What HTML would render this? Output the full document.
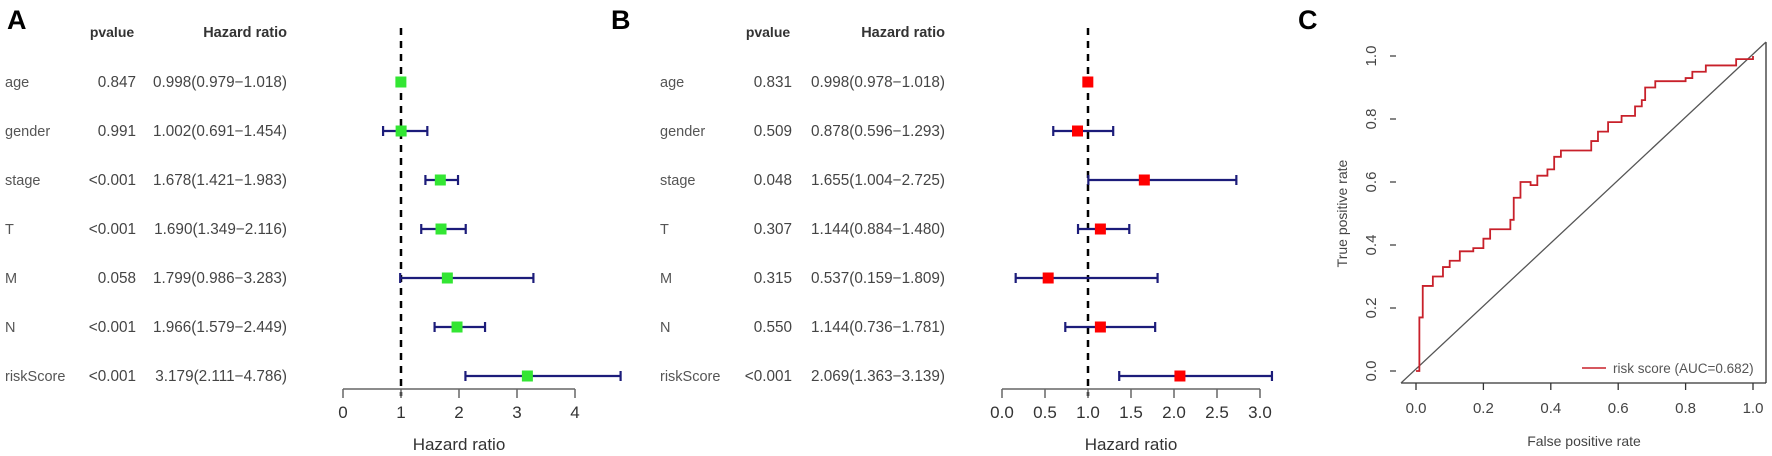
<!DOCTYPE html>
<html><head><meta charset="utf-8"><style>
html,body{margin:0;padding:0;background:#fff;}
svg{display:block;font-family:"Liberation Sans",sans-serif;}
</style></head><body>
<svg id="fig" width="1772" height="456" viewBox="0 0 1772 456" xmlns="http://www.w3.org/2000/svg"></svg>
<script>
const variables = ["age","gender","stage","T","M","N","riskScore"];
const aPvalues = ["0.847","0.991","<0.001","<0.001","0.058","<0.001","<0.001"];
const aHR = [0.998,1.002,1.678,1.690,1.799,1.966,3.179];
const aLow = [0.979,0.691,1.421,1.349,0.986,1.579,2.111];
const aHigh = [1.018,1.454,1.983,2.116,3.283,2.449,4.786];
const aTicks = [0,1,2,3,4];
const bPvalues = ["0.831","0.509","0.048","0.307","0.315","0.550","<0.001"];
const bHR = [0.998,0.878,1.655,1.144,0.537,1.144,2.069];
const bLow = [0.978,0.596,1.004,0.884,0.159,0.736,1.363];
const bHigh = [1.018,1.293,2.725,1.480,1.809,1.781,3.139];
const bTicks = [0,0.5,1,1.5,2,2.5,3];
const rocFpr = [0,0.01,0.01,0.02,0.05,0.08,0.10,0.13,0.17,0.20,0.22,0.26,0.28,0.29,0.31,0.34,0.36,0.39,0.41,0.43,0.51,0.52,0.54,0.57,0.61,0.65,0.67,0.68,0.71,0.80,0.82,0.86,0.94,0.95,1.0];
const rocTpr = [0,0.0,0.17,0.27,0.30,0.33,0.35,0.38,0.39,0.42,0.45,0.45,0.48,0.55,0.60,0.59,0.62,0.64,0.68,0.70,0.70,0.73,0.76,0.79,0.81,0.84,0.86,0.90,0.92,0.93,0.95,0.97,0.97,0.99,1.0];
const rocTicks = [0,0.2,0.4,0.6,0.8,1.0];

const svg = document.getElementById('fig');
const NS = 'http://www.w3.org/2000/svg';
function mk(tag, attrs, text){
  const e = document.createElementNS(NS, tag);
  for (const k in attrs) e.setAttribute(k, attrs[k]);
  if (text !== undefined) e.textContent = text;
  svg.appendChild(e);
  return e;
}
const rowY = i => 82 + i*49;
const fmt = v => v.toFixed(3);

function forest(p){
  const sx = v => p.x0 + v*p.unit;
  let t;
  t = mk('text',{x:p.lx,y:29,'font-size':27,'font-weight':'bold',fill:'#000'},p.letter);
  
  
  t = mk('text',{x:p.pvEnd-24,y:37,'font-size':14,'font-weight':'bold','text-anchor':'middle',fill:'#333'},'pvalue');
  
  
  t = mk('text',{x:p.hrEnd,y:37,'font-size':14.5,'font-weight':'bold','text-anchor':'end',fill:'#333'},'Hazard ratio');
  
  
  variables.forEach((v,i)=>{
    const y = rowY(i)+5;
    let e = mk('text',{x:p.nameX,y:y,'font-size':14.5,fill:'#555'},v);
    
    
    e = mk('text',{x:p.pvEnd,y:y,'font-size':15.3,'text-anchor':'end',fill:'#444'},p.pv[i]);
    
    
    e = mk('text',{x:p.hrEnd,y:y,'font-size':15.3,'text-anchor':'end',fill:'#444'},fmt(p.hr[i])+'('+fmt(p.lo[i])+'−'+fmt(p.hi[i])+')');
    
    
  });
  let e = mk('line',{x1:sx(1),x2:sx(1),y1:28,y2:396,stroke:'#000','stroke-width':2.5,'stroke-dasharray':'7,6'});
  
  
  const tk = p.ticks;
  e = mk('line',{x1:sx(tk[0]),x2:sx(tk[tk.length-1]),y1:389,y2:389,stroke:'#666','stroke-width':1.5});
  
  
  tk.forEach(v=>{
    let l = mk('line',{x1:sx(v),x2:sx(v),y1:389,y2:398,stroke:'#666','stroke-width':1.5});
    
    
    let tl = mk('text',{x:sx(v),y:418,'font-size':17,'text-anchor':'middle',fill:'#333'},p.dec?v.toFixed(1):String(v));
    
    
  });
  e = mk('text',{x:(sx(tk[0])+sx(tk[tk.length-1]))/2 + p.titleDx,y:450,'font-size':17,'text-anchor':'middle',fill:'#333'},'Hazard ratio');
  
  
  variables.forEach((v,i)=>{
    const y = rowY(i);
    let g = mk('line',{x1:sx(p.lo[i]),x2:sx(p.hi[i]),y1:y,y2:y,stroke:'#1c1c7a','stroke-width':2.2});
    
    
    [p.lo[i],p.hi[i]].forEach(c=>{
      let cap = mk('line',{x1:sx(c),x2:sx(c),y1:y-5,y2:y+5,stroke:'#1c1c7a','stroke-width':2.2});
      
      
    });
    let m = mk('rect',{x:sx(p.hr[i])-5.5,y:y-5.5,width:11,height:11,fill:p.color});
    
    
  });
}

forest({id:'a',letter:'A',lx:7,nameX:5,pvEnd:136,hrEnd:287,x0:343,unit:58,ticks:aTicks,dec:false,pv:aPvalues,hr:aHR,lo:aLow,hi:aHigh,color:'#33e633',titleDx:0});
forest({id:'b',letter:'B',lx:611,nameX:660,pvEnd:792,hrEnd:945,x0:1002,unit:86,ticks:bTicks,dec:true,pv:bPvalues,hr:bHR,lo:bLow,hi:bHigh,color:'#f00',titleDx:0});

// ROC panel
const rx = v => 1416 + v*337;
const ry = v => 371 - v*315;
let e = mk('text',{x:1298,y:29,'font-size':27,'font-weight':'bold',fill:'#000'},'C');


e = mk('line',{x1:1401,x2:1766,y1:383,y2:383,stroke:'#333','stroke-width':1.3});


e = mk('line',{x1:1766,x2:1766,y1:42,y2:383,stroke:'#333','stroke-width':1.3});


e = mk('line',{x1:1401,x2:1766,y1:383,y2:42,stroke:'#555','stroke-width':1.3});


rocTicks.forEach(v=>{
  let l = mk('line',{x1:rx(v),x2:rx(v),y1:383,y2:390,stroke:'#333','stroke-width':1.3});
  
  
  let t = mk('text',{x:rx(v),y:413,'font-size':15,'text-anchor':'middle',fill:'#444'},v.toFixed(1));
  
  
  l = mk('line',{x1:1390,x2:1396,y1:ry(v),y2:ry(v),stroke:'#444','stroke-width':1.3});
  
  
  t = mk('text',{x:1376,y:ry(v),'font-size':15,'text-anchor':'middle',fill:'#444',transform:'rotate(-90 1376 '+ry(v)+')'},v.toFixed(1));
  
  
});
e = mk('text',{x:1584,y:446,'font-size':14,'text-anchor':'middle',fill:'#444'},'False positive rate');


e = mk('text',{x:1347,y:ry(0.5),'font-size':14,'text-anchor':'middle',fill:'#444',transform:'rotate(-90 1347 '+ry(0.5)+')'},'True positive rate');


let d = 'M'+rx(rocFpr[0])+','+ry(rocTpr[0]);
for (let i=1;i<rocFpr.length;i++){ d += ' H'+rx(rocFpr[i])+' V'+ry(rocTpr[i]); }
e = mk('path',{d:d,fill:'none',stroke:'#c8202a','stroke-width':1.8});


e = mk('line',{x1:1582,x2:1606,y1:368,y2:368,stroke:'#c8202a','stroke-width':1.5});


e = mk('text',{x:1613,y:373,'font-size':13.5,fill:'#555'},'risk score (AUC=0.682)');


</script>
</body></html>
